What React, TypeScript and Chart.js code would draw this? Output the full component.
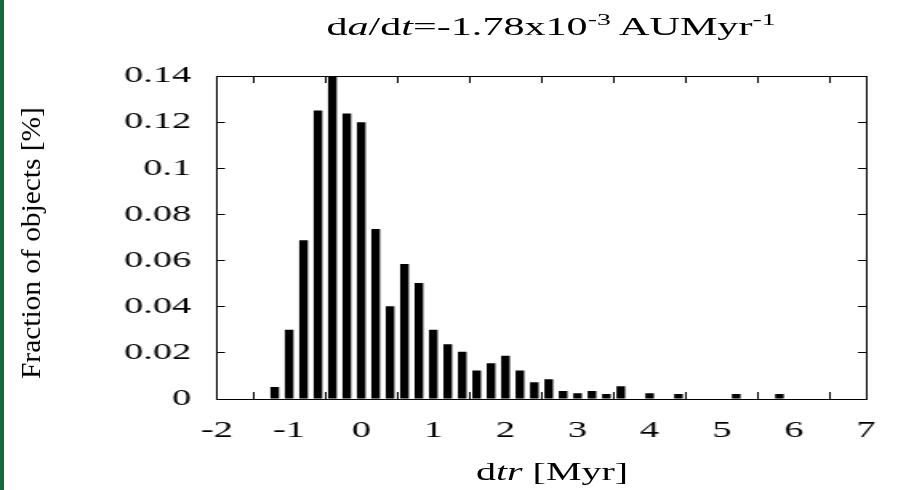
import React, { useEffect, useRef } from 'react';
import { Chart, registerables } from 'chart.js';

Chart.register(...registerables);

// ---- data ----
const binCenters = [
  -1.2, -1.0, -0.8, -0.6, -0.4, -0.2, 0.0, 0.2, 0.4, 0.6, 0.8, 1.0, 1.2, 1.4, 1.6,
  1.8, 2.0, 2.2, 2.4, 2.6, 2.8, 3.0, 3.2, 3.4, 3.6, 4.0, 4.4, 5.2, 5.8,
];
const fractions = [
  0.0052, 0.0300, 0.0688, 0.1250, 0.1400, 0.1238, 0.1200, 0.0737, 0.0402, 0.0585,
  0.0503, 0.0300, 0.0237, 0.0205, 0.0123, 0.0155, 0.0187, 0.0123, 0.0073, 0.0086,
  0.0035, 0.0025, 0.0035, 0.0022, 0.0055, 0.0025, 0.0022, 0.0022, 0.0022,
];
const xRange = [-2, 7];
const xStep = 1;
const yRange = [0, 0.14];
const yStep = 0.02;

// ---- layout ----
const PAGE_W = 914;
const PAGE_H = 490;
const CW = 571;
const SX = PAGE_W / CW;
const FONT = "'Liberation Serif', 'Times New Roman', serif";

export default function App() {
  const ref = useRef<HTMLCanvasElement | null>(null);

  useEffect(() => {
    if (!ref.current) return;
    const black = '#000';
    const chart = new Chart(ref.current, {
      type: 'bar',
      data: {
        datasets: [
          {
            data: binCenters.map((x, i) => ({ x, y: fractions[i] })),
            backgroundColor: black,
            borderWidth: 0,
            barPercentage: 0.6,
            categoryPercentage: 1.0,
          },
        ],
      },
      options: {
        animation: false,
        responsive: false,
        devicePixelRatio: 1,
        layout: { padding: 0 },
        plugins: {
          legend: { display: false },
          tooltip: { enabled: false },
          title: { display: false },
        },
        scales: {
          x: {
            type: 'linear',
            position: 'bottom',
            min: xRange[0],
            max: xRange[1],
            offset: false,
            ticks: {
              stepSize: xStep,
              autoSkip: false,
              maxRotation: 0,
              color: black,
              padding: 24,
              font: { family: FONT, size: 24 },
            },
            grid: { drawOnChartArea: false, drawTicks: true, tickLength: -7, color: black, lineWidth: 1 },
            border: { display: true, color: black, width: 1 },
            afterFit: (s: any) => {
              s.height = PAGE_H - 399;
            },
          },
          x2: {
            type: 'linear',
            position: 'top',
            min: xRange[0],
            max: xRange[1],
            offset: false,
            ticks: { display: false, stepSize: xStep },
            grid: { drawOnChartArea: false, drawTicks: true, tickLength: -7, color: black, lineWidth: 1 },
            border: { display: true, color: black, width: 1 },
            afterFit: (s: any) => {
              s.height = 76;
            },
          },
          y: {
            type: 'linear',
            position: 'left',
            min: yRange[0],
            max: yRange[1],
            ticks: {
              stepSize: yStep,
              color: black,
              padding: 21,
              font: { family: FONT, size: 24 },
              callback: (v: any) => String(Number(Number(v).toFixed(2))),
            },
            grid: { drawOnChartArea: false, drawTicks: true, tickLength: -5, color: black, lineWidth: 1 },
            border: { display: true, color: black, width: 1 },
            afterFit: (s: any) => {
              s.width = 217 / SX;
            },
          },
          y2: {
            type: 'linear',
            position: 'right',
            min: yRange[0],
            max: yRange[1],
            ticks: { display: false, stepSize: yStep },
            grid: { drawOnChartArea: false, drawTicks: true, tickLength: -5, color: black, lineWidth: 1 },
            border: { display: true, color: black, width: 1 },
            afterFit: (s: any) => {
              s.width = (PAGE_W - 887) / SX;
            },
          },
        },
      } as any,
    });
    return () => chart.destroy();
  }, []);

  const textBase: React.CSSProperties = {
    position: 'absolute',
    fontFamily: FONT,
    color: '#000',
    whiteSpace: 'nowrap',
  };
  const sup: React.CSSProperties = { fontSize: '0.66em', position: 'relative', top: '-0.6em' };

  return (
    <div
      style={{
        position: 'absolute',
        left: 0,
        top: 0,
        width: PAGE_W,
        height: PAGE_H,
        background: '#fff',
        overflow: 'hidden',
      }}
    >
      <div style={{ position: 'absolute', left: 0, top: 0, width: 4, height: PAGE_H, background: '#17683f' }} />
      <canvas
        ref={ref}
        width={CW}
        height={PAGE_H}
        style={{
          position: 'absolute',
          left: 0,
          top: 0,
          transformOrigin: '0 0',
          transform: `scaleX(${SX})`,
        }}
      />
      <div
        style={{
          ...textBase,
          left: 551,
          top: 14,
          fontSize: 26,
          lineHeight: '26px',
          transformOrigin: '50% 0',
          transform: `translateX(-50%) scaleX(1.62)`,
        }}
      >
        d<i>a</i>/d<i>t</i>=-1.78x10<span style={sup}>-3</span> AUMyr<span style={sup}>-1</span>
      </div>
      <div
        style={{
          ...textBase,
          left: 552,
          top: 459,
          fontSize: 25,
          lineHeight: '25px',
          transformOrigin: '50% 0',
          transform: `translateX(-50%) scaleX(1.6)`,
        }}
      >
        d<i>tr</i> [Myr]
      </div>
      <div
        style={{
          ...textBase,
          left: 31,
          top: 243,
          fontSize: 28,
          lineHeight: '28px',
          transformOrigin: '50% 50%',
          transform: 'translate(-50%, -50%) rotate(-90deg) scaleX(1.05)',
        }}
      >
        Fraction of objects [%]
      </div>
    </div>
  );
}
